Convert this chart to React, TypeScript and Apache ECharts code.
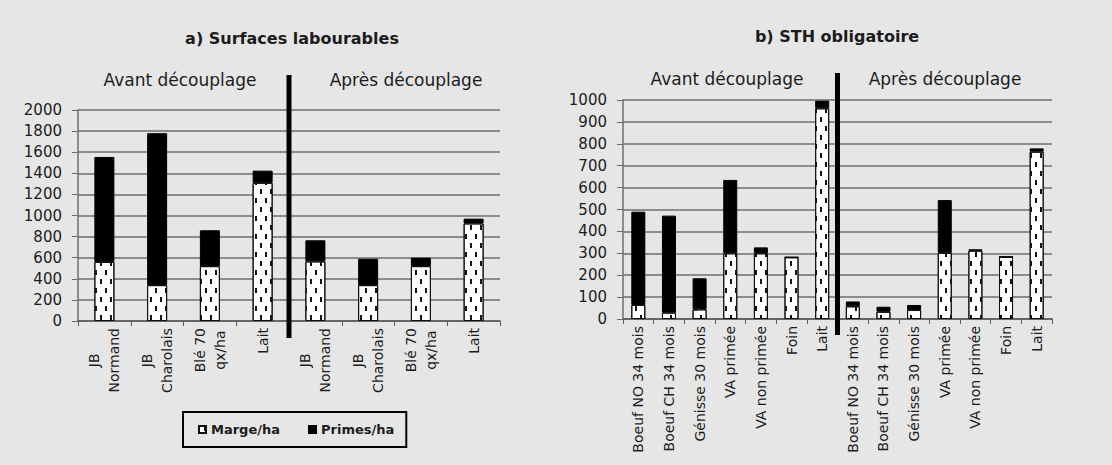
import React, { useEffect, useRef } from "react";
import * as echarts from "echarts";

// ---------- data ----------
const catsA = [
  "JB\nNormand",
  "JB\nCharolais",
  "Blé 70\nqx/ha",
  "Lait",
  "JB\nNormand",
  "JB\nCharolais",
  "Blé 70\nqx/ha",
  "Lait",
];
const margeA = [560, 340, 520, 1310, 565, 340, 520, 925];
const primesA = [995, 1440, 340, 115, 200, 250, 80, 45];

const catsB = [
  "Boeuf NO 34 mois",
  "Boeuf CH 34 mois",
  "Génisse 30 mois",
  "VA primée",
  "VA non primée",
  "Foin",
  "Lait",
  "Boeuf NO 34 mois",
  "Boeuf CH 34 mois",
  "Génisse 30 mois",
  "VA primée",
  "VA non primée",
  "Foin",
  "Lait",
];
const margeB = [64, 29, 44, 300, 300, 282, 962, 58, 33, 41, 302, 312, 284, 764];
const primesB = [426, 443, 142, 335, 27, 0, 35, 22, 23, 23, 241, 6, 0, 15];

const yMaxA = 2000;
const yStepA = 200;
const yMaxB = 1000;
const yStepB = 100;

const seriesNames = ["Marge/ha", "Primes/ha"];
const titleA = "a) Surfaces labourables";
const titleB = "b) STH obligatoire";
const periodLabels = ["Avant découplage", "Après découplage"];

// ---------- style ----------
const BG = "#e6e6e6";
const FONT = "DejaVu Sans";
const TXT = "#1c1c1c";
const GRIDC = "#6e6e6e";

const gridA = { left: 78, top: 110, width: 422, height: 211 };
const gridB = { left: 623, top: 100, width: 429, height: 219 };

const decal = {
  symbol: "rect",
  symbolSize: 1,
  color: "#111",
  backgroundColor: "#ffffff",
  dashArrayX: [
    [2, 8],
    [0, 5, 2, 3],
  ],
  dashArrayY: [5, 4],
  rotation: 0,
};

function xAxis(gridIndex: number, data: string[]) {
  return {
    gridIndex,
    type: "category",
    data,
    axisLine: { show: true, lineStyle: { color: "#5a5a5a", width: 1.5 } },
    axisTick: { show: true, length: 5, lineStyle: { color: "#5a5a5a" } },
    axisLabel: {
      interval: 0,
      rotate: 90,
      margin: 7,
      color: TXT,
      fontFamily: FONT,
      fontSize: 14,
      formatter: (v: string) =>
        v
          .split("\n")
          .map((l) => `{c|${l}}`)
          .join("\n"),
      rich: {
        c: {
          align: "center",
          fontSize: 14,
          lineHeight: 20,
          fontFamily: FONT,
          color: TXT,
        },
      },
    },
  };
}

function yAxis(gridIndex: number, max: number, step: number) {
  return {
    gridIndex,
    type: "value",
    min: 0,
    max,
    interval: step,
    axisLine: { show: true, lineStyle: { color: GRIDC, width: 1.5 } },
    axisTick: { show: true, length: 6, lineStyle: { color: GRIDC } },
    axisLabel: {
      margin: 16,
      fontSize: 15,
      color: TXT,
      fontFamily: FONT,
      formatter: (v: number) => String(v),
    },
    splitLine: { show: true, lineStyle: { color: GRIDC, width: 1.5 } },
  };
}

function barSeries(idx: number, marge: number[], primes: number[], bw: number) {
  return [
    {
      name: seriesNames[0],
      type: "bar",
      xAxisIndex: idx,
      yAxisIndex: idx,
      stack: "s" + idx,
      data: marge,
      barWidth: bw,
      itemStyle: { color: "#ffffff", borderColor: "#111", borderWidth: 1, decal },
    },
    {
      name: seriesNames[1],
      type: "bar",
      xAxisIndex: idx,
      yAxisIndex: idx,
      stack: "s" + idx,
      data: primes,
      barWidth: bw,
      itemStyle: { color: "#000", borderColor: "#000", borderWidth: 1 },
    },
  ];
}

function titleAt(text: string, cx: number, top: number, size: number, bold: boolean) {
  return {
    text,
    left: cx,
    top,
    textAlign: "center",
    padding: 0,
    textStyle: {
      fontFamily: FONT,
      fontSize: size,
      fontWeight: bold ? "bold" : "normal",
      color: TXT,
    },
  };
}

function sepRect(g: { left: number; width: number }, n: number, y0: number, y1: number) {
  const x = g.left + (g.width * (n / 2)) / n;
  return {
    type: "rect",
    shape: { x: x - 2.5, y: y0, width: 5, height: y1 - y0 },
    style: { fill: "#000" },
    z: 100,
  };
}

export default function App() {
  const ref = useRef<HTMLDivElement>(null);
  useEffect(() => {
    document.body.style.margin = "0";
    document.body.style.background = BG;
    const chart = echarts.init(ref.current!, null, { renderer: "svg" });
    const option = {
      animation: false,
      backgroundColor: BG,
      title: [
        titleAt(titleA, 292, 30, 16, true),
        titleAt(titleB, 837, 28, 16, true),
        titleAt(periodLabels[0], 180, 71, 17, false),
        titleAt(periodLabels[1], 406, 71, 17, false),
        titleAt(periodLabels[0], 727, 70, 17, false),
        titleAt(periodLabels[1], 945, 70, 17, false),
      ],
      legend: {
        left: 183,
        top: 412,
        data: seriesNames,
        itemWidth: 7,
        itemHeight: 7,
        itemGap: 28,
        icon: "rect",
        padding: [11, 12, 11, 15],
        borderColor: "#000",
        borderWidth: 2,
        selectedMode: false,
        textStyle: { fontSize: 13, fontWeight: "bold", fontFamily: FONT, color: TXT },
      },
      grid: [gridA, gridB],
      xAxis: [xAxis(0, catsA), xAxis(1, catsB)],
      yAxis: [yAxis(0, yMaxA, yStepA), yAxis(1, yMaxB, yStepB)],
      series: [
        ...barSeries(0, margeA, primesA, 20),
        ...barSeries(1, margeB, primesB, 14),
      ],
      graphic: [sepRect(gridA, catsA.length, 75, 338), sepRect(gridB, catsB.length, 73, 335)],
    };
    chart.setOption(option as any);
    return () => chart.dispose();
  }, []);
  return <div ref={ref} style={{ width: 1112, height: 465, background: BG }} />;
}
